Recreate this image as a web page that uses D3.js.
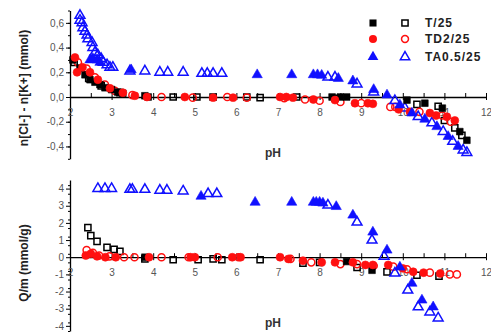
<!DOCTYPE html>
<html>
<head>
<meta charset="utf-8">
<script src="https://cdn.jsdelivr.net/npm/d3@7"></script>
<style>
  body { margin: 0; background: #fff; }
  #chart { width: 491px; height: 336px; }
  text { font-family: "Liberation Sans", Arial, sans-serif; }
</style>
</head>
<body>
<div id="chart"></div>
<script>
// ---- data (pH, value) ----
// top panel: n[Cl-] - n[K+] (mmol)
const tFillTop = [[2.07,0.30],[2.24,0.235],[2.36,0.18],[2.48,0.14],[2.6,0.12],[2.72,0.10],[2.84,0.075],[3.0,0.06],[3.15,0.04],[3.27,0.03],[3.8,0.01],[3.88,0.0],[8.3,0.0],[8.5,0.0],[8.65,0.0],[10.1,-0.025],[10.53,-0.05],[10.95,-0.09],[11.37,-0.28],[11.54,-0.35]];
const tOpenTop = [[2.1,0.28],[2.45,0.15],[2.75,0.09],[3.2,0.035],[4.48,0.0],[5.05,0.0],[5.44,0.0],[6.25,0.0],[6.57,-0.005],[7.45,0.0],[8.37,-0.01],[10.34,-0.06],[10.85,-0.075],[11.0,-0.19],[11.25,-0.25],[11.42,-0.31]];
const tdFillTop = [[2.12,0.32],[2.17,0.2],[2.3,0.24],[2.48,0.2],[2.67,0.14],[2.96,0.07],[3.27,0.035],[3.56,0.01],[3.85,0.0],[4.76,0.0],[5.44,-0.005],[5.92,-0.005],[7.05,0.0],[7.2,0.0],[7.36,-0.005],[7.85,-0.02],[8.37,-0.025],[8.85,-0.05],[9.16,-0.05],[9.28,-0.055],[9.9,-0.1],[10.17,-0.12],[10.65,-0.13],[10.8,-0.15],[11.06,-0.16],[11.25,-0.19]];
const tdOpenTop = [[2.19,0.28],[2.4,0.23],[2.6,0.16],[2.84,0.1],[3.08,0.05],[3.5,0.015],[4.2,0.0],[4.95,-0.005],[5.78,0.0],[6.25,-0.005],[7.15,-0.01],[7.65,-0.02],[8.0,-0.03],[8.5,-0.04],[9.0,-0.05],[9.7,-0.08],[9.82,-0.08],[10.4,-0.12],[10.95,-0.15],[11.15,-0.2]];
const taFillTop = [[2.48,0.30],[2.55,0.31],[2.65,0.30],[2.72,0.28],[3.47,0.22],[6.5,0.18],[7.33,0.18],[7.85,0.18],[7.95,0.18],[8.05,0.175],[8.45,0.15],[8.8,0.13],[9.3,0.06],[9.62,0.016],[9.93,-0.065],[10.22,-0.13],[10.53,-0.18],[10.82,-0.24],[11.09,-0.32],[11.33,-0.40]];
const taOpenTop = [[2.24,0.66],[2.24,0.62],[2.29,0.6],[2.31,0.56],[2.36,0.53],[2.41,0.5],[2.43,0.47],[2.53,0.44],[2.55,0.4],[2.6,0.36],[2.67,0.34],[2.75,0.31],[2.8,0.28],[2.89,0.26],[2.96,0.24],[3.03,0.24],[3.44,0.21],[3.8,0.21],[4.16,0.2],[4.35,0.2],[4.72,0.2],[5.17,0.19],[5.3,0.19],[5.44,0.19],[5.65,0.19],[8.2,0.16],[8.37,0.16],[8.9,0.105],[9.3,0.04],[9.81,-0.03],[10.05,-0.09],[10.37,-0.16],[10.7,-0.21],[10.97,-0.28],[11.2,-0.36],[11.45,-0.43],[11.54,-0.45]];

// bottom panel: Q/m (mmol/g)
const tFillBot = [[3.8,0.0],[8.65,-0.25],[9.26,-0.76]];
const tOpenBot = [[2.43,1.72],[2.5,1.26],[2.65,0.92],[2.89,0.57],[3.06,0.46],[3.2,0.34],[3.8,-0.1],[4.48,-0.15],[5.08,-0.15],[5.44,-0.1],[5.65,-0.15],[6.57,-0.15],[7.6,-0.35],[8.0,-0.3],[8.9,-0.6],[9.62,-0.85],[10.34,-1.05],[10.87,-1.1]];
const tdFillBot = [[2.38,0.1],[2.5,0.2],[2.65,0.05],[2.85,0.0],[3.1,0.0],[3.9,0.0],[4.9,0.0],[5.0,0.0],[5.9,0.0],[6.1,0.0],[7.05,0.0],[7.25,-0.1],[7.6,-0.2],[8.05,-0.3],[8.37,-0.3],[8.8,-0.3],[9.1,-0.45],[9.28,-0.45],[9.65,-0.45],[10.0,-0.65],[10.25,-0.85],[10.5,-0.9],[10.9,-0.95]];
const tdOpenBot = [[2.4,0.42],[2.55,0.25],[2.7,0.1],[2.95,0.05],[3.3,0.0],[3.55,0.0],[4.2,0.0],[4.85,0.0],[5.55,0.0],[6.05,0.0],[7.3,-0.1],[7.8,-0.3],[8.5,-0.4],[8.9,-0.4],[9.3,-0.5],[9.77,-0.55],[10.1,-0.7],[10.65,-0.9],[11.13,-1.0],[11.3,-1.0]];
const taFillBot = [[5.15,3.55],[6.45,3.2],[7.33,3.2],[7.85,3.2],[7.92,3.2],[8.0,3.2],[8.08,3.15],[8.4,2.95],[8.8,2.45],[9.28,1.46],[9.62,0.41],[9.93,-0.58],[10.22,-1.52],[10.46,-2.5],[10.73,-2.9]];
const taOpenBot = [[2.67,4.0],[2.84,4.0],[3.0,4.0],[3.44,3.95],[3.5,3.95],[3.8,3.95],[4.16,3.9],[4.33,3.9],[4.72,3.85],[5.32,3.7],[5.53,3.7],[8.2,3.03],[8.9,2.04],[9.26,0.99],[9.55,0.05],[9.81,-0.93],[10.12,-1.92],[10.37,-2.9],[10.65,-3.2],[10.85,-3.55]];

const legendLabels = ['T/25', 'TD2/25', 'TA0.5/25'];
const xTicks = [2,3,4,5,6,7,8,9,10,11,12];
const topTicks = [-0.4,-0.2,0.0,0.2,0.4,0.6];
const botTicks = [-4,-3,-2,-1,0,1,2,3,4];

const width = 491, height = 336;
const svg = d3.select('#chart').append('svg').attr('width', width).attr('height', height);

const xScale = d3.scaleLinear().domain([2, 12]).range([70, 486]);
const yTop = d3.scaleLinear().domain([-0.5, 0.7]).range([158.8, 10.5]);
const yBot = d3.scaleLinear().domain([-4.3, 4.5]).range([331, 180]);

const black = '#000', red = '#ff1010', blue = '#1010ff';

function drawPanel(y, ticks, minorStep, fmt, title, titleY, phY) {
  const g = svg.append('g');
  // y axis, major + minor ticks
  const minor = d3.range(y.domain()[0], y.domain()[1] + 1e-9, minorStep);
  g.append('g').attr('transform', 'translate(70,0)')
    .call(d3.axisLeft(y).tickValues(minor).tickSize(2).tickFormat(''))
    .call(a => a.select('.domain').remove());
  const ya = g.append('g').attr('transform', 'translate(70,0)')
    .call(d3.axisLeft(y).tickValues(ticks).tickSize(4).tickSizeOuter(0).tickFormat(fmt));
  ya.select('.domain').attr('stroke-width', 1.3);
  ya.selectAll('text').attr('font-size', 10).attr('fill', '#555').attr('x', -6);

  // x axis sitting on zero
  const y0 = y(0);
  const xa = g.append('g').attr('transform', `translate(0,${y0})`)
    .call(d3.axisBottom(xScale).tickValues(xTicks).tickSize(3).tickSizeOuter(0).tickPadding(9));
  xa.select('.domain').attr('stroke-width', 1.3);
  xa.selectAll('text').attr('font-size', 10).attr('fill', '#555');
  g.append('g').attr('transform', `translate(0,${y0})`)
    .call(d3.axisTop(xScale).tickValues(d3.range(2.5, 12.01, 0.5)).tickSize(4).tickFormat(''))
    .call(a => a.select('.domain').remove());

  g.append('text').attr('x', 273).attr('y', phY).attr('text-anchor', 'middle')
    .attr('font-size', 12).attr('font-weight', 'bold').attr('fill', '#333').text('pH');
  g.append('text').attr('transform', `translate(28,${titleY}) rotate(-90)`).attr('text-anchor', 'middle')
    .attr('font-size', 12).attr('font-weight', 'bold').attr('fill', '#222').text(title);
  return g;
}

function drawPoints(data, y, shape, size, color, filled) {
  const sym = d3.symbol().type(shape).size(size);
  svg.append('g').selectAll('path').data(data).enter().append('path')
    .attr('d', sym)
    .attr('transform', d => `translate(${xScale(d[0])},${y(d[1])})`)
    .attr('fill', filled ? color : 'none')
    .attr('stroke', color)
    .attr('stroke-width', filled ? 0.6 : 1.5);
}

const commaFmt = d => d3.format('.1f')(d).replace('.', ',').replace('−', '-');
drawPanel(yTop, topTicks, 0.1, commaFmt, 'n[Cl-] - n[K+] (mmol)', 88, 157);
drawPanel(yBot, botTicks, 0.5, d => d3.format('d')(d).replace('−', '-'), 'Q/m (mmol/g)', 263, 327);

// top series
drawPoints(tOpenTop, yTop, d3.symbolSquare, 38, black, false);
drawPoints(tdOpenTop, yTop, d3.symbolCircle, 40, red, false);
drawPoints(taOpenTop, yTop, d3.symbolTriangle, 42, blue, false);
drawPoints(tFillTop, yTop, d3.symbolSquare, 45, black, true);
drawPoints(tdFillTop, yTop, d3.symbolCircle, 50, red, true);
drawPoints(taFillTop, yTop, d3.symbolTriangle, 45, blue, true);
// bottom series
drawPoints(tOpenBot, yBot, d3.symbolSquare, 38, black, false);
drawPoints(tdOpenBot, yBot, d3.symbolCircle, 40, red, false);
drawPoints(taOpenBot, yBot, d3.symbolTriangle, 42, blue, false);
drawPoints(tFillBot, yBot, d3.symbolSquare, 45, black, true);
drawPoints(tdFillBot, yBot, d3.symbolCircle, 50, red, true);
drawPoints(taFillBot, yBot, d3.symbolTriangle, 45, blue, true);

// legend
const shapes = [d3.symbolSquare, d3.symbolCircle, d3.symbolTriangle];
const colors = [black, red, blue];
const leg = svg.append('g');
legendLabels.forEach((lab, i) => {
  const ly = [23, 39, 57][i];
  leg.append('path').attr('d', d3.symbol().type(shapes[i]).size(50)())
    .attr('transform', `translate(373,${ly})`).attr('fill', colors[i]);
  leg.append('path').attr('d', d3.symbol().type(shapes[i]).size(38)())
    .attr('transform', `translate(405,${ly})`).attr('fill', 'none')
    .attr('stroke', colors[i]).attr('stroke-width', 1.5);
  leg.append('text').attr('x', 425).attr('y', ly + 4).attr('font-size', 12)
    .attr('font-weight', 'bold').attr('letter-spacing', 1).attr('fill', '#222').text(lab);
});
</script>
</body>
</html>
